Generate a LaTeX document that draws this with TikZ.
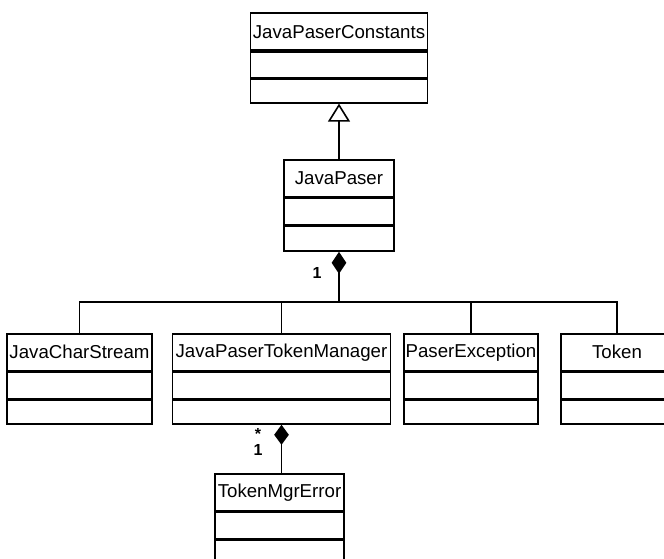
\documentclass[tikz,border=0pt]{standalone}
\usepackage{fontspec}
\setmainfont{Liberation Sans}
\usetikzlibrary{arrows.meta}
\begin{document}
\begin{tikzpicture}[x=0.75pt,y=-0.75pt]
    \tikzstyle{head}=[draw, line width=1.2pt, minimum height=27.75pt, inner sep=0pt, anchor=north, font=\fontsize{14}{16}\selectfont]
    \tikzstyle{slot}=[draw, line width=1.2pt, inner sep=0pt, anchor=north]
    \tikzstyle{link}=[line width=1.2pt]
    \tikzstyle{mult}=[inner sep=0pt, font=\fontsize{12}{13}\selectfont\bfseries]
    \useasboundingbox (0,0) rectangle (664,559);
    % JavaPaserConstants
    \node[head, minimum width=132.75pt] (jpc1) at (339,12.5) {JavaPaserConstants};
    \node[slot, minimum width=132.75pt, minimum height=19.5pt] (jpc2) at (jpc1.south) {};
    \node[slot, minimum width=132.75pt, minimum height=17.5pt] (jpc3) at (jpc2.south) {};
    % JavaPaser
    \node[head, minimum width=82.5pt] (jp1) at (339,159) {JavaPaser};
    \node[slot, minimum width=82.5pt, minimum height=19.5pt] (jp2) at (jp1.south) {};
    \node[slot, minimum width=82.5pt, minimum height=18.75pt] (jp3) at (jp2.south) {};
    % row of parts
    \node[head, minimum width=108.75pt] (jcs1) at (79.5,333) {JavaCharStream};
    \node[slot, minimum width=108.75pt, minimum height=19.5pt] (jcs2) at (jcs1.south) {};
    \node[slot, minimum width=108.75pt, minimum height=18pt] (jcs3) at (jcs2.south) {};
    \node[head, minimum width=163.5pt] (jptm1) at (281.5,333) {JavaPaserTokenManager};
    \node[slot, minimum width=163.5pt, minimum height=19.5pt] (jptm2) at (jptm1.south) {};
    \node[slot, minimum width=163.5pt, minimum height=18pt] (jptm3) at (jptm2.south) {};
    \node[head, minimum width=100.5pt] (pe1) at (471,333) {PaserException};
    \node[slot, minimum width=100.5pt, minimum height=19.5pt] (pe2) at (pe1.south) {};
    \node[slot, minimum width=100.5pt, minimum height=18pt] (pe3) at (pe2.south) {};
    \node[head, minimum width=84pt] (tok1) at (617,333) {Token};
    \node[slot, minimum width=84pt, minimum height=19.5pt] (tok2) at (tok1.south) {};
    \node[slot, minimum width=84pt, minimum height=18pt] (tok3) at (tok2.south) {};
    % TokenMgrError
    \node[head, minimum width=96.75pt] (tme1) at (279.5,473) {TokenMgrError};
    \node[slot, minimum width=96.75pt, minimum height=19.5pt] (tme2) at (tme1.south) {};
    \node[slot, minimum width=96.75pt, minimum height=18.75pt] (tme3) at (tme2.south) {};
    % links
    \draw[link, -{Triangle[open, width=16.5pt, length=13.5pt]}] (jp1.north) -- (jpc3.south);
    \coordinate (bus) at (339,302);
    \draw[link, {Diamond[width=11pt, length=16.5pt]}-] (jp3.south) -- (bus);
    \draw[link] (bus) -| (jcs1.north);
    \draw[link] (bus) -| (jptm1.north);
    \draw[link] (bus) -| (pe1.north);
    \draw[link] (bus) -| (tok1.north);
    \draw[link, {Diamond[width=11pt, length=15pt]}-] (jptm3.south) -- (jptm3.south |- tme1.north);
    \node[mult] (m1) at (317,273) {1};
    \node[mult] (m2) at (258,434) {*};
    \node[mult] (m3) at (258,450) {1};
    %\draw (m2) -- (m3);
  \end{tikzpicture}
\end{document}
